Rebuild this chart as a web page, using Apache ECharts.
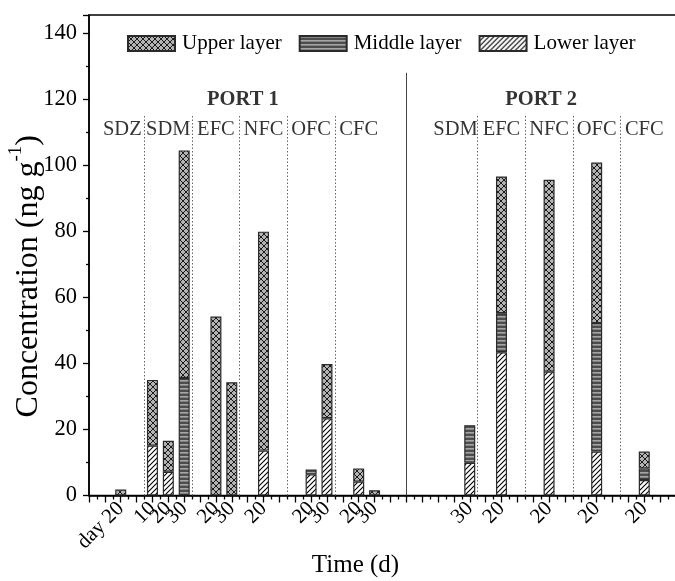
<!DOCTYPE html>
<html>
<head>
<meta charset="utf-8">
<script src="https://cdn.jsdelivr.net/npm/echarts@6/dist/echarts.min.js"></script>
<style>html,body{margin:0;padding:0;background:#fff}#c{width:675px;height:581px}</style>
</head>
<body>
<div id="c"></div>
<script>
// ---- data ----
const xPositions   = [2, 4, 5, 6, 8, 9, 11, 14, 15, 17, 18, 24, 26, 29, 32, 35];
const xTickLabels  = ['day 20','10','20','30','20','30','20','20','30','20','30','30','20','20','20','20'];
const lowerLayer   = [null, 15.1, 7.2, null, null, null, 13.6, 6.4, 23.4, 4.2, null, 9.9, 43.4, 37.5, 13.3, 4.7];
const middleLayer  = [null, null, null, 35.6, null, null, null, 1.5, null, null, null, 11.4, 11.8, null, 38.9, 3.5];
const upperLayer   = [1.8, 19.9, 9.4, 68.9, 54.2, 34.3, 66.3, null, 16.4, 4.0, 1.6, null, 41.4, 58.1, 48.6, 5.1];
const siteNames    = ['SDZ','SDM','EFC','NFC','OFC','CFC','SDM','EFC','NFC','OFC','CFC'];
const siteCenters  = [2.1, 5, 8, 11, 14, 17, 23.1, 26, 29, 32, 35];
const siteDividers = [3.5, 6.5, 9.5, 12.5, 15.5, 24.5, 27.5, 30.5, 33.5];
const portNames    = ['PORT 1', 'PORT 2'];
const portCenters  = [9.7, 28.5];
const portDivider  = 20;
const yTicks       = [0, 20, 40, 60, 80, 100, 120, 140];
const xMax         = 37;

// half-slot categories used to place the stacked bars
const halfSlots = [];
for (let i = 0; i <= xMax * 2; i++) halfSlots.push(String(i / 2));

// ---- styling helpers ----
const FONT = 'Liberation Serif';
function pattern(kind) {
  const c = document.createElement('canvas');
  const ctx = c.getContext('2d');
  if (kind === 'cross') {
    c.width = 6; c.height = 6;
    ctx.fillStyle = '#b3b3b3'; ctx.fillRect(0, 0, 6, 6);
    ctx.strokeStyle = '#1a1a1a'; ctx.lineWidth = 1;
    ctx.beginPath(); ctx.moveTo(0, 0); ctx.lineTo(6, 6); ctx.moveTo(6, 0); ctx.lineTo(0, 6); ctx.stroke();
  } else if (kind === 'horiz') {
    c.width = 4; c.height = 4;
    ctx.fillStyle = '#4d4d4d'; ctx.fillRect(0, 0, 4, 4);
    ctx.fillStyle = '#a6a6a6'; ctx.fillRect(0, 0, 4, 1.6);
  } else {
    c.width = 5; c.height = 5;
    ctx.fillStyle = '#ffffff'; ctx.fillRect(0, 0, 5, 5);
    ctx.strokeStyle = '#000'; ctx.lineWidth = 1.1;
    ctx.beginPath();
    ctx.moveTo(0, 5); ctx.lineTo(5, 0);
    ctx.moveTo(-1, 1); ctx.lineTo(1, -1);
    ctx.moveTo(4, 6); ctx.lineTo(6, 4);
    ctx.stroke();
  }
  return { image: c, repeat: 'repeat' };
}

const labelMap = {};
xPositions.forEach((p, i) => { labelMap[p] = xTickLabels[i]; });

function layerSeries(name, values, kind) {
  return {
    name: name,
    type: 'bar',
    stack: 'total',
    xAxisIndex: 0,
    barWidth: 11,
    data: xPositions.map((p, i) => [String(p), values[i]]),
    itemStyle: { color: pattern(kind), borderColor: '#2a2a2a', borderWidth: 1.2 },
    emphasis: { disabled: true },
    silent: true
  };
}

const lower = layerSeries('Lower layer', lowerLayer, 'diag');
const middle = layerSeries('Middle layer', middleLayer, 'horiz');
const upper = layerSeries('Upper layer', upperLayer, 'cross');

const siteText = {
  type: 'scatter',
  xAxisIndex: 1,
  symbolSize: 0,
  silent: true,
  data: siteCenters.map((c, i) => ({ value: [c, 110.9], name: siteNames[i] })),
  label: { show: true, position: 'inside', formatter: '{b}', color: '#000', fontFamily: FONT, fontSize: 20.5 },
  markLine: {
    silent: true,
    symbol: 'none',
    label: { show: false },
    animation: false,
    data: siteDividers.map(d => [
      { coord: [d, 0], lineStyle: { type: [1.5, 2], color: '#666', width: 1 } },
      { coord: [d, 115] }
    ]).concat([[
      { coord: [portDivider, 0], lineStyle: { type: 'solid', color: '#444', width: 1 } },
      { coord: [portDivider, 128] }
    ]])
  }
};
const portText = {
  type: 'scatter',
  xAxisIndex: 1,
  symbolSize: 0,
  silent: true,
  data: portCenters.map((c, i) => ({ value: [c, 120], name: portNames[i] })),
  label: { show: true, position: 'inside', formatter: '{b}', color: '#000', fontFamily: FONT, fontSize: 20.5, fontWeight: 'bold' }
};

const chart = echarts.init(document.getElementById('c'), null, { renderer: 'canvas' });
chart.setOption({
  animation: false,
  backgroundColor: '#fff',
  grid: { left: 89, right: -1, top: 15, bottom: 85.5, outerBoundsMode: 'none', containLabel: false, show: true, borderColor: '#000', borderWidth: 1.5, backgroundColor: 'transparent' },
  legend: {
    data: ['Upper layer', 'Middle layer', 'Lower layer'],
    left: 122, top: 28,
    itemWidth: 47, itemHeight: 15, itemGap: 17,
    icon: 'rect',
    selectedMode: false,
    textStyle: { fontFamily: FONT, fontSize: 21, color: '#000', padding: [0, 0, 0, 2] }
  },
  xAxis: [{
    type: 'category',
    data: halfSlots,
    boundaryGap: false,
    position: 'bottom',
    axisLine: { show: false },
    axisTick: { show: false },
    axisLabel: { show: false },
    splitLine: { show: false }
  }, {
    type: 'value',
    position: 'bottom',
    min: 0, max: xMax, interval: 1,
    name: 'Time (d)',
    nameLocation: 'middle',
    nameGap: 57,
    nameMoveOverlap: false,
    nameTextStyle: { fontFamily: FONT, fontSize: 25, color: '#000', padding: [0, 54, 0, 0] },
    axisLine: { show: true, lineStyle: { color: '#000', width: 1.5 } },
    axisTick: { show: true, length: 7, lineStyle: { color: '#000', width: 1.3 } },
    minorTick: { show: true, splitNumber: 2, length: 4, lineStyle: { color: '#000', width: 1.3 } },
    splitLine: { show: false },
    axisLabel: {
      rotate: 45, margin: 10,
      fontFamily: FONT, fontSize: 21, color: '#000',
      formatter: v => labelMap[v] || ''
    }
  }],
  yAxis: {
    type: 'value',
    min: 0, max: 145.5, interval: 20,
    name: '{a|Concentration (ng g}{s|-1}{a|)}',
    nameLocation: 'middle',
    nameGap: 44,
    nameMoveOverlap: false,
    nameTextStyle: {
      fontFamily: FONT, fontSize: 32, color: '#000', padding: [0, 42, 0, 0],
      rich: {
        a: { fontFamily: FONT, fontSize: 32, color: '#000', lineHeight: 38, verticalAlign: 'bottom' },
        s: { fontFamily: FONT, fontSize: 19, color: '#000', lineHeight: 38, verticalAlign: 'top' }
      }
    },
    axisLine: { show: true, lineStyle: { color: '#000', width: 1.5 } },
    axisTick: { show: true, length: 6, lineStyle: { color: '#000', width: 1.3 } },
    minorTick: { show: true, splitNumber: 2, length: 3, lineStyle: { color: '#000', width: 1.3 } },
    splitLine: { show: false },
    axisLabel: {
      margin: 12, fontFamily: FONT, fontSize: 22.5, color: '#000',
      showMaxLabel: false,
      formatter: v => (yTicks.indexOf(v) >= 0 ? String(v) : '')
    }
  },
  series: [lower, middle, upper, siteText, portText]
});
</script>
</body>
</html>
